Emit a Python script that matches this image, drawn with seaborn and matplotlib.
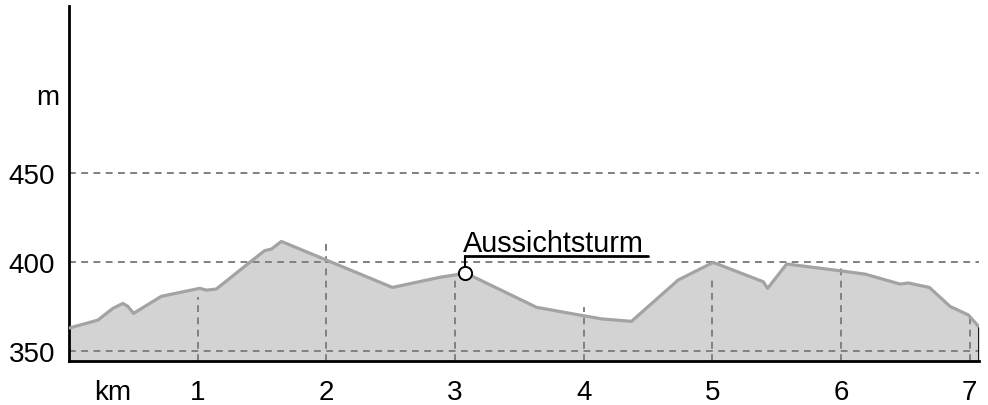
import matplotlib
matplotlib.use("Agg")
import matplotlib.pyplot as plt
import seaborn as sns

# Höhenprofil: Distanz (km) und Höhe (m)
km = [0.0, 0.225, 0.341, 0.419, 0.458, 0.502, 0.718, 1.016, 1.068, 1.145,
      1.275, 1.404, 1.521, 1.573, 1.651, 2.514, 2.882, 2.998, 3.076, 3.115,
      3.634, 3.996, 4.139, 4.372, 4.735, 5.007, 5.396, 5.430, 5.578, 5.992,
      6.187, 6.459, 6.523, 6.687, 6.848, 6.990, 7.075]
hoehe = [362.8, 367.3, 373.9, 376.7, 375.0, 371.1, 380.7, 385.2, 384.2, 384.8,
         392.3, 399.8, 406.4, 407.3, 411.6, 385.7, 391.4, 392.7, 394.0, 392.7,
         374.5, 369.8, 368.0, 366.6, 389.9, 399.8, 388.9, 385.2, 398.9, 395.1,
         393.2, 387.6, 388.2, 385.7, 375.0, 370.2, 363.3]

km_ticks = [1, 2, 3, 4, 5, 6, 7]
km_linien_oben = [380.5, 410.7, 391.4, 374.5, 390.4, 398.9, 369.8]
hoehen_ticks = [350, 400, 450]

poi_name = "Aussichtsturm"
poi_km = 3.076
poi_hoehe = 394.0

Y_MIN, Y_MAX = 344.1, 544
X_MAX = 7.075

sns.set_style("white")
plt.rcParams['font.family'] = ['Liberation Sans', 'DejaVu Sans']
plt.rcParams['text.color'] = 'black'

fig = plt.figure(figsize=(9.88, 4.06), dpi=100)
ax = fig.add_axes([0.0698, 0.1076, 0.9214, 0.8744])

grau = "#808080"
strich = (0, (3.5, 2.8))

# Fläche unter dem Profil
ax.fill_between(km, hoehe, Y_MIN, color="#d3d3d3", linewidth=0, zorder=1)

# Gitterlinien
for h in hoehen_ticks:
    ax.axhline(h, color=grau, linewidth=1.4, linestyle=strich, zorder=2)
ax.vlines(km_ticks, Y_MIN, km_linien_oben, color=grau, linewidth=1.4,
          linestyles=[strich], zorder=2)

# Profillinie
sns.lineplot(x=km, y=hoehe, color="#a3a3a3", linewidth=2.3, ax=ax, zorder=3)
ax.vlines(X_MAX, Y_MIN, hoehe[-1], color="black", linewidth=2, zorder=4)

# Aussichtsturm
unterstrich_h = 403.5
ax.plot([poi_km, poi_km], [poi_hoehe + 3, unterstrich_h], color="black",
        linewidth=1.5, zorder=5)
ax.plot([poi_km, 4.499], [unterstrich_h, unterstrich_h], color="black",
        linewidth=2, zorder=5)
ax.plot(poi_km, poi_hoehe, marker="o", markersize=9.5, markerfacecolor="white",
        markeredgecolor="black", markeredgewidth=1.4, zorder=6)
ax.text(poi_km - 0.012, 406.3, poi_name, fontsize=20.8, ha="left",
        va="baseline", color="black", zorder=6)

ax.set_xlim(0, X_MAX)
ax.set_ylim(Y_MIN, Y_MAX)

ax.set_xticks([0.341] + km_ticks)
ax.set_xticklabels(["km"] + [str(k) for k in km_ticks])
ax.set_yticks(hoehen_ticks)
ax.set_yticklabels([str(h) for h in hoehen_ticks])
ax.tick_params(axis="x", length=0, labelsize=20, pad=12.5, labelcolor="black")
ax.tick_params(axis="y", length=0, labelsize=20, pad=10, labelcolor="black")

ax.text(-0.073, 489, "m", fontsize=20, ha="right", va="baseline",
        color="black")

for s in ["top", "right"]:
    ax.spines[s].set_visible(False)
for s in ["left", "bottom"]:
    ax.spines[s].set_color("black")
    ax.spines[s].set_linewidth(2)
ax.set_xlabel("")
ax.set_ylabel("")

fig.savefig("out.png", dpi=100)
